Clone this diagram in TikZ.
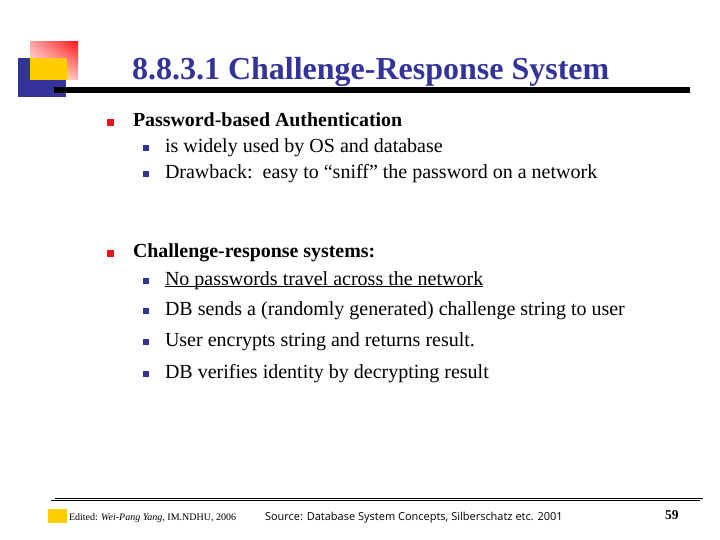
\documentclass[tikz,border=0pt]{standalone}
\usepackage{fontspec}
\setmainfont{Liberation Serif}
\newfontfamily\srcfont{Open Sans}
\usetikzlibrary{positioning, shadings}
\definecolor{slideblue}{RGB}{51,51,153}
\definecolor{slideyellow}{RGB}{255,204,0}
\definecolor{slidered}{RGB}{227,20,30}
\tikzset{
  txt/.style={anchor=base west, inner sep=0pt, outer sep=0pt},
  mainitem/.style={txt, font=\fontsize{19.9}{22}\selectfont\bfseries},
  subitem/.style={txt, font=\fontsize{20}{22}\selectfont},
  mainbullet/.style={fill=slidered, minimum size=7pt, inner sep=0pt, anchor=center},
  subbullet/.style={fill=slideblue, minimum size=6pt, inner sep=0pt, anchor=center}
}
\begin{document}
\begin{tikzpicture}[x=1pt, y=-1pt]
\useasboundingbox[fill=white] (0,0) rectangle (720,540);

% Logo
\fill[slideblue] (18,58) rectangle (66,97);
\shade[upper right=red!90, upper left=red!35, lower left=white, lower right=red!25] (30,42) rectangle (78,80);
\fill[slideyellow] (30,58) rectangle (67,80);
\fill[black] (54,87) rectangle (690,93);

% Titulo
\node[txt, text=slideblue, font=\fontsize{32}{35}\selectfont\bfseries] (title) at (132,79.5) {8.8.3.1 Challenge-Response System};

% Itens principais
\foreach \name/\y/\label in {pass/127/Password-based Authentication, chal/258/Challenge-response systems:} {
  \node[mainbullet] (\name bullet) at (110.5,\y-4.5) {};
  \node[mainitem] (\name) at (133,\y) {\label};
}

% Subitens
\foreach \i/\y/\label in {
  1/153/is widely used by OS and database,
  2/179/Drawback:\ \ easy to “sniff” the password on a network,
  3/285/No passwords travel across the network,
  4/315/DB sends a (randomly generated) challenge string to user,
  5/346/User encrypts string and returns result.,
  6/378/DB verifies identity by decrypting result} {
  \node[subbullet] (bullet\i) at (146,\y-4.5) {};
  \node[subitem] (item\i) at (165,\y) {\label};
}
\draw[line width=1.3pt] ([yshift=-1.4pt]item3.base west) -- ([yshift=-1.4pt]item3.base east);

% Rodape
\draw[line width=1.3pt] (55,498.5) -- (703,498.5);
\draw[line width=0.8pt] (51,500.5) -- (700,500.5);
\fill[slideyellow] (48,509) rectangle (67,523);
\node[txt, font=\fontsize{10}{12}\selectfont] (edited) at (69,520) {Edited: \textit{Wei-Pang Yang,} IM.NDHU, 2006};
\node[txt, font=\srcfont\fontsize{11}{13}\selectfont] (source) at (265,520) {Source: Database System Concepts, Silberschatz etc. 2001};
\node[txt, font=\fontsize{13.5}{15}\selectfont\bfseries] (page) at (665,519) {59};

\end{tikzpicture}
\end{document}
